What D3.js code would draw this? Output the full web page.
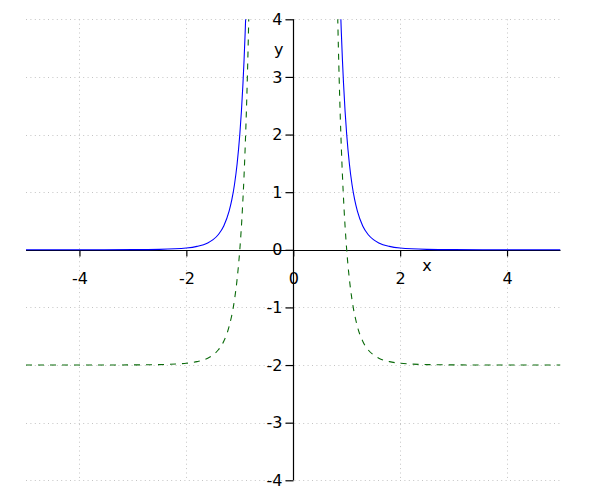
<!DOCTYPE html>
<html>
<head>
<meta charset="utf-8">
<script src="https://cdn.jsdelivr.net/npm/d3@7"></script>
<style>
  body { margin: 0; background: #fff; }
  text { font-family: "DejaVu Sans", sans-serif; font-size: 16px; fill: #000; }
</style>
</head>
<body>
<svg id="chart" width="600" height="500"></svg>
<script>
// ---- data ----
const xTicks = [-4, -2, 0, 2, 4];
const yTicks = [-4, -3, -2, -1, 0, 1, 2, 3, 4];
const xGrid = [-4, -2, 2, 4];
const yGrid = [-4, -3, -2, -1, 1, 2, 3, 4];

// blue curve (solid), left and right branches
const blueLeftX  = [-5, -4, -3, -2.5, -2, -1.8, -1.6, -1.5, -1.4, -1.3, -1.2, -1.15, -1.1, -1.05, -1.0, -0.97, -0.94, -0.92, -0.9, -0.89];
const blueLeftY  = [0.0001, 0.0005, 0.0027, 0.0082, 0.031, 0.059, 0.119, 0.176, 0.266, 0.414, 0.670, 0.865, 1.129, 1.493, 2.0, 2.401, 2.899, 3.298, 3.764, 4.024];
const blueRightX = [0.89, 0.9, 0.92, 0.94, 0.97, 1.0, 1.05, 1.1, 1.15, 1.2, 1.3, 1.4, 1.5, 1.6, 1.8, 2, 2.5, 3, 4, 5];
const blueRightY = [4.024, 3.764, 3.298, 2.899, 2.401, 2.0, 1.493, 1.129, 0.865, 0.670, 0.414, 0.266, 0.176, 0.119, 0.059, 0.031, 0.0082, 0.0027, 0.0005, 0.0001];

// green curve (dashed), left and right branches
const greenLeftX  = [-5, -4, -3, -2.5, -2, -1.8, -1.6, -1.5, -1.4, -1.3, -1.2, -1.1, -1.05, -1.0, -0.95, -0.92, -0.9, -0.88, -0.86, -0.845, -0.832];
const greenLeftY  = [-2.0, -1.9995, -1.997, -1.992, -1.969, -1.941, -1.881, -1.824, -1.734, -1.586, -1.330, -0.871, -0.508, 0.0, 0.721, 1.298, 1.764, 2.307, 2.943, 3.493, 4.03];
const greenRightX = [0.832, 0.845, 0.86, 0.88, 0.9, 0.92, 0.95, 1.0, 1.05, 1.1, 1.2, 1.3, 1.4, 1.5, 1.6, 1.8, 2, 2.5, 3, 4, 5];
const greenRightY = [4.03, 3.493, 2.943, 2.307, 1.764, 1.298, 0.721, 0.0, -0.508, -0.871, -1.330, -1.586, -1.734, -1.824, -1.881, -1.941, -1.969, -1.992, -1.997, -1.9995, -2.0];

// ---- drawing ----
const svg = d3.select("#chart");
const x = d3.scaleLinear().domain([-5, 5]).range([26, 560.5]);
const y = d3.scaleLinear().domain([-4, 4]).range([480.3, 19.3]);

svg.append("defs").append("clipPath").attr("id", "plotclip")
  .append("rect")
  .attr("x", x(-5)).attr("y", y(4))
  .attr("width", x(5) - x(-5)).attr("height", y(-4) - y(4));

// grid
const grid = svg.append("g").attr("stroke", "#c4c4c4").attr("stroke-width", 1)
  .attr("stroke-dasharray", "1,3.4");
grid.selectAll("line.h").data(yGrid).join("line").attr("class", "h")
  .attr("x1", x(-5)).attr("x2", x(5))
  .attr("y1", d => Math.round(y(d)) + 0.5).attr("y2", d => Math.round(y(d)) + 0.5);
grid.selectAll("line.v").data(xGrid).join("line").attr("class", "v")
  .attr("y1", y(4)).attr("y2", y(-4))
  .attr("x1", d => Math.round(x(d)) + 0.5).attr("x2", d => Math.round(x(d)) + 0.5);

// axes crossing at the origin
const x0 = Math.round(x(0)) + 0.5;
const y0 = Math.round(y(0)) + 0.5;
const fmt = d => String(d);

const xAxis = d3.axisBottom(x).tickValues(xTicks).tickSize(6).tickPadding(16)
  .tickFormat(fmt);
const gx = svg.append("g").attr("transform", `translate(0,${y0})`).call(xAxis);
gx.select(".domain").attr("d", `M${x(-5)},0H${x(5)}`).attr("stroke", "#000").attr("stroke-width", 1.2);
gx.selectAll(".tick line").attr("stroke", "#000").attr("stroke-width", 1.2);
gx.selectAll(".tick text").attr("font-family", "DejaVu Sans").attr("font-size", 16).attr("fill", "#000");

const yAxis = d3.axisLeft(y).tickValues(yTicks).tickSize(8).tickPadding(3)
  .tickFormat(fmt);
const gy = svg.append("g").attr("transform", `translate(${x0},0)`).call(yAxis);
gy.select(".domain").attr("d", `M0,${y(4)}V${y(-4)}`).attr("stroke", "#000").attr("stroke-width", 1.2);
gy.selectAll(".tick line").attr("stroke", "#000").attr("stroke-width", 1.2);
gy.selectAll(".tick text").attr("font-family", "DejaVu Sans").attr("font-size", 16).attr("fill", "#000");

// axis titles
svg.append("text").attr("x", x(2.5)).attr("y", y(0) + 21).attr("text-anchor", "middle").text("x");
svg.append("text").attr("x", x(-0.27)).attr("y", y(3.47) + 5).attr("text-anchor", "middle").text("y");

// curves
const line = d3.line().x(d => x(d[0])).y(d => y(d[1])).curve(d3.curveMonotoneX);
const curves = svg.append("g").attr("clip-path", "url(#plotclip)").attr("fill", "none");

function branch(xs, ys) { return xs.map((v, i) => [v, ys[i]]); }

[[blueLeftX, blueLeftY], [blueRightX, blueRightY]].forEach(([xs, ys]) => {
  curves.append("path").datum(branch(xs, ys))
    .attr("d", line).attr("stroke", "#0000ff").attr("stroke-width", 1.1);
});
[[greenLeftX, greenLeftY], [greenRightX, greenRightY]].forEach(([xs, ys]) => {
  curves.append("path").datum(branch(xs, ys))
    .attr("d", line).attr("stroke", "#0a6a0a").attr("stroke-width", 1.1)
    .attr("stroke-dasharray", "6,6");
});
</script>
</body>
</html>
